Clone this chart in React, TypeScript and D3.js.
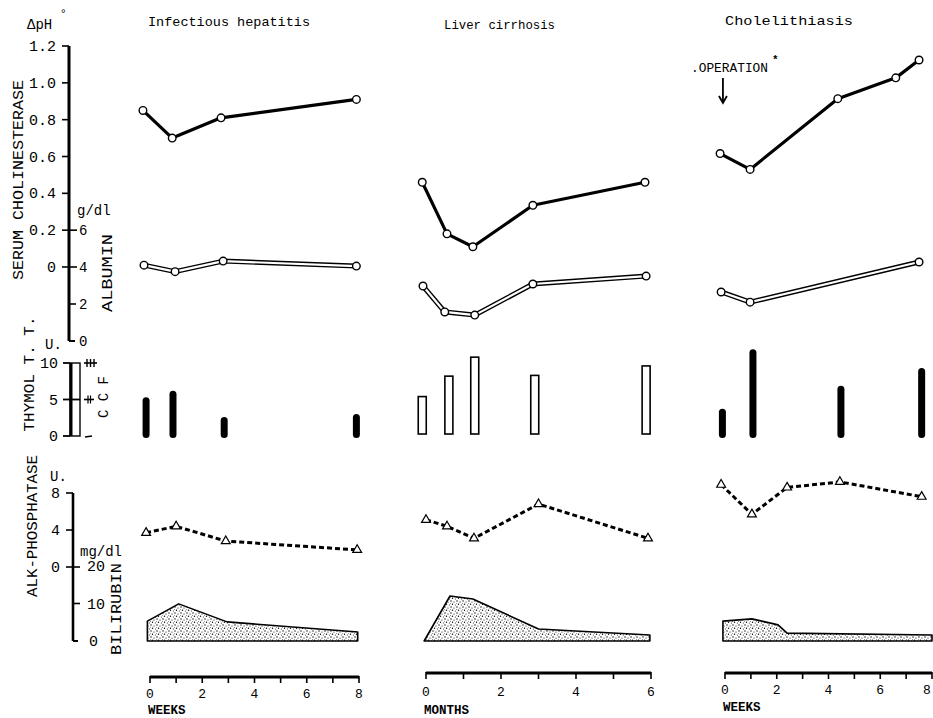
import React from 'react';
import * as d3 from 'd3';

// ---------------- DATA ----------------
const panelTitles = ['Infectious hepatitis', 'Liver cirrhosis', 'Cholelithiasis'];
const panelUnits = ['WEEKS', 'MONTHS', 'WEEKS'];
const panelMax = [8, 6, 8];
const panelTickLabels = [[0, 2, 4, 6, 8], [0, 2, 4, 6], [0, 2, 4, 6, 8]];

const cheTicks = [1.2, 1.0, 0.8, 0.6, 0.4, 0.2, 0];
const cheTickLabels = ['1.2', '1.0', '0.8', '0.6', '0.4', '0.2', '0'];
const albTicks = [6, 4, 2, 0];
const thyTicks = [10, 5, 0];
const alkTicks = [8, 4, 0];
const bilTicks = [20, 10, 0];

// Serum cholinesterase (ΔpH)
const cheT1 = [-0.27, 0.85, 2.72, 7.9];
const che1 = [0.85, 0.70, 0.81, 0.91];
const cheT2 = [-0.1, 0.56, 1.25, 2.85, 5.84];
const che2 = [0.46, 0.18, 0.11, 0.335, 0.46];
const cheT3 = [-0.19, 0.97, 4.36, 6.6, 7.5];
const che3 = [0.616, 0.53, 0.914, 1.027, 1.124];

// Albumin (g/dl)
const albT1 = [-0.23, 0.96, 2.8, 7.9];
const alb1 = [4.1, 3.75, 4.32, 4.05];
const albT2 = [-0.08, 0.5, 1.3, 2.85, 5.87];
const alb2 = [2.97, 1.57, 1.4, 3.08, 3.51];
const albT3 = [-0.15, 0.97, 7.5];
const alb3 = [2.65, 2.1, 4.27];

// Thymol turbidity test (U.)
const thyT1 = [-0.15, 0.88, 2.84, 7.9];
const thy1 = [5.3, 6.2, 2.6, 3.0];
const thyT2 = [-0.1, 0.61, 1.3, 2.9, 5.87];
const thy2 = [5.4, 8.2, 10.8, 8.3, 9.6];
const thyT3 = [-0.1, 1.08, 4.48, 7.6];
const thy3 = [3.75, 11.9, 6.9, 9.3];
const thyFilled = [true, false, true];

// Alkaline phosphatase (U.)
const alkT1 = [-0.15, 1.0, 2.9, 7.93];
const alk1 = [3.7, 4.4, 2.8, 1.85];
const alkT2 = [0, 0.56, 1.28, 3.0, 5.92];
const alk2 = [5.1, 4.4, 3.1, 6.8, 3.1];
const alkT3 = [-0.15, 1.04, 2.4, 4.44, 7.6];
const alk3 = [8.9, 5.7, 8.6, 9.2, 7.6];

// Bilirubin (mg/dl)
const bilT1 = [-0.1, 1.1, 2.95, 7.95];
const bil1 = [5.3, 9.9, 5.1, 2.4];
const bilT2 = [-0.05, 0.64, 1.25, 3.0, 5.97];
const bil2 = [0, 12, 11.2, 3.2, 1.6];
const bilT3 = [-0.08, 1.04, 2.05, 2.4, 8.0];
const bil3 = [5.3, 5.9, 4.3, 2.1, 1.6];

const operationWeek = -0.08;

// ---------------- LAYOUT ----------------
const W = 933;
const H = 718;
const FONT = '"Liberation Mono", "DejaVu Sans Mono", monospace';

const yChe = d3.scaleLinear().domain([0, 1.2]).range([267, 46]);
const yAlb = d3.scaleLinear().domain([0, 6]).range([341, 230]);
const yThy = d3.scaleLinear().domain([0, 10]).range([436, 363]);
const yAlk = d3.scaleLinear().domain([0, 8]).range([567, 493]);
const yBil = d3.scaleLinear().domain([0, 20]).range([641, 566]);

const xRanges = [[150, 359], [426, 651], [725, 932]];
const axisYs = [677, 673, 673];
const tickLabelYs = [698, 696, 694];
const unitYs = [714, 714, 711];
const titleLayout = [
  { x: 148, y: 26, len: 162 },
  { x: 444, y: 29, len: 111 },
  { x: 725, y: 25, len: 128 },
];

const panels = [
  { che: [cheT1, che1], alb: [albT1, alb1], thy: [thyT1, thy1], alk: [alkT1, alk1], bil: [bilT1, bil1] },
  { che: [cheT2, che2], alb: [albT2, alb2], thy: [thyT2, thy2], alk: [alkT2, alk2], bil: [bilT2, bil2] },
  { che: [cheT3, che3], alb: [albT3, alb3], thy: [thyT3, thy3], alk: [alkT3, alk3], bil: [bilT3, bil3] },
];

const line = d3.line<[number, number]>();
const tri = d3.symbol().type(d3.symbolTriangle).size(34);

function pts(xs: number[], ys: number[], sx: (v: number) => number, sy: (v: number) => number): [number, number][] {
  return xs.map((t, i) => [sx(t), sy(ys[i])] as [number, number]);
}

function Panel({ i }: { i: number }) {
  const p = panels[i];
  const max = panelMax[i];
  const x = d3.scaleLinear().domain([0, max]).range(xRanges[i]);
  const ay = axisYs[i];
  const chePts = pts(p.che[0], p.che[1], x, yChe);
  const albPts = pts(p.alb[0], p.alb[1], x, yAlb);
  const alkPts = pts(p.alk[0], p.alk[1], x, yAlk);
  const bilPts = pts(p.bil[0], p.bil[1], x, yBil);
  const base = yBil(0);
  const bilPoly: [number, number][] = [[bilPts[0][0], base], ...bilPts, [bilPts[bilPts.length - 1][0], base]];
  const tl = titleLayout[i];
  const filled = thyFilled[i];
  const bw = filled ? 7 : 8;
  return (
    <g>
      <text x={tl.x} y={tl.y} fontSize={13.5} textLength={tl.len} lengthAdjust="spacingAndGlyphs">{panelTitles[i]}</text>

      {/* bilirubin area */}
      <path d={line(bilPoly) + 'Z'} fill="url(#stipple)" stroke="#000" strokeWidth={1.6} strokeLinejoin="round" />

      {/* albumin double line */}
      <path d={line(albPts)!} fill="none" stroke="#000" strokeWidth={5} strokeLinejoin="round" />
      <path d={line(albPts)!} fill="none" stroke="#fff" strokeWidth={2.2} strokeLinejoin="round" />
      {albPts.map((q, k) => <circle key={'a' + k} cx={q[0]} cy={q[1]} r={3.8} fill="#fff" stroke="#000" strokeWidth={1.4} />)}

      {/* cholinesterase */}
      <path d={line(chePts)!} fill="none" stroke="#000" strokeWidth={3.2} strokeLinejoin="round" />
      {chePts.map((q, k) => <circle key={'c' + k} cx={q[0]} cy={q[1]} r={3.8} fill="#fff" stroke="#000" strokeWidth={1.4} />)}

      {/* thymol bars */}
      {p.thy[0].map((t, k) => {
        const cx = x(t);
        const top = yThy(p.thy[1][k]);
        const bot = yThy(0) + (filled ? 2 : -2);
        return filled ? (
          <rect key={'t' + k} x={cx - bw / 2} y={top} width={bw} height={bot - top} rx={bw / 2} fill="#000" />
        ) : (
          <rect key={'t' + k} x={cx - bw / 2} y={top} width={bw} height={bot - top} fill="#fff" stroke="#000" strokeWidth={1.6} />
        );
      })}

      {/* alkaline phosphatase */}
      <path d={line(alkPts)!} fill="none" stroke="#000" strokeWidth={3} strokeDasharray="5 3" />
      {alkPts.map((q, k) => (
        <path key={'k' + k} d={tri()!} transform={`translate(${q[0]},${q[1]})`} fill="#fff" stroke="#000" strokeWidth={1.2} />
      ))}

      {/* x axis */}
      <line x1={x(0)} x2={x(max)} y1={ay} y2={ay} stroke="#000" strokeWidth={3} />
      {d3.range(0, max + 1).map((v) => (
        <line key={'x' + v} x1={x(v)} x2={x(v)} y1={ay - 1} y2={ay + 6} stroke="#000" strokeWidth={1.6} />
      ))}
      {panelTickLabels[i].map((v) => (
        <text key={'l' + v} x={Math.min(x(v), W - 6)} y={tickLabelYs[i]} fontSize={13} textAnchor="middle">{v}</text>
      ))}
      <text x={x(0) - 2} y={unitYs[i]} fontSize={12.5} fontWeight="bold">{panelUnits[i]}</text>
    </g>
  );
}

export default function App() {
  const leftChe = 69;
  const leftAlk = 73;
  const op = d3.scaleLinear().domain([0, 8]).range(xRanges[2])(operationWeek);
  return (
    <svg width={W} height={H} viewBox={`0 0 ${W} ${H}`} style={{ position: 'absolute', left: 0, top: 0, background: '#fff' }} fontFamily={FONT} fill="#000">
      <defs>
        <pattern id="stipple" width="6" height="6" patternUnits="userSpaceOnUse">
          <rect width="6" height="6" fill="#fff" />
          <circle cx="1" cy="1" r="0.7" fill="#000" />
          <circle cx="4" cy="2" r="0.6" fill="#000" />
          <circle cx="2.5" cy="4.2" r="0.7" fill="#000" />
          <circle cx="5.3" cy="5" r="0.5" fill="#000" />
          <circle cx="0.5" cy="3.4" r="0.45" fill="#000" />
        </pattern>
      </defs>
      <rect width={W} height={H} fill="#fff" />

      {/* ---- Cholinesterase / albumin axis ---- */}
      <text x={27} y={29} fontSize={14}>ΔpH</text>
      <text x={60} y={17} fontSize={11}>°</text>
      <line x1={leftChe} x2={leftChe} y1={yChe(1.2)} y2={yAlb(0)} stroke="#000" strokeWidth={3} />
      <line x1={leftChe} x2={leftChe + 6} y1={yAlb(0)} y2={yAlb(0)} stroke="#000" strokeWidth={2} />
      {cheTicks.map((v, k) => (
        <g key={'ct' + k}>
          <line x1={62} x2={v <= 0.2 ? 77 : leftChe} y1={yChe(v)} y2={yChe(v)} stroke="#000" strokeWidth={1.6} />
          <text x={56} y={yChe(v) + 5} fontSize={15} textAnchor="end">{cheTickLabels[k]}</text>
        </g>
      ))}
      {albTicks.map((v) => (
        <g key={'at' + v}>
          {v === 2 && <line x1={leftChe} x2={76} y1={yAlb(v)} y2={yAlb(v)} stroke="#000" strokeWidth={1.6} />}
          <text x={79} y={yAlb(v) + 5} fontSize={14}>{v}</text>
        </g>
      ))}
      <text x={77} y={215} fontSize={14}>g/dl</text>
      <text transform="translate(19,180) rotate(-90)" fontSize={15} textAnchor="middle" dominantBaseline="central" textLength={200} lengthAdjust="spacingAndGlyphs">SERUM CHOLINESTERASE</text>
      <text transform="translate(108,273) rotate(-90)" fontSize={14} textAnchor="middle" dominantBaseline="central" textLength={78} lengthAdjust="spacingAndGlyphs">ALBUMIN</text>

      {/* ---- Thymol axis ---- */}
      <text x={45} y={349} fontSize={14}>U.</text>
      <rect x={70} y={yThy(10)} width={10} height={yThy(0) - yThy(10)} fill="none" stroke="#000" strokeWidth={1.4} />
      <line x1={71} x2={71} y1={yThy(10)} y2={yThy(0)} stroke="#000" strokeWidth={3} />
      {thyTicks.map((v) => (
        <g key={'tt' + v}>
          <line x1={63} x2={v === 5 ? 80 : 70} y1={yThy(v)} y2={yThy(v)} stroke="#000" strokeWidth={1.8} />
          <text x={58} y={yThy(v) + 5} fontSize={15} textAnchor="end">{v}</text>
        </g>
      ))}
      {/* CCF grade marks */}
      <line x1={84} x2={97} y1={yThy(10)} y2={yThy(10)} stroke="#000" strokeWidth={1.6} />
      {[87, 90.5, 94].map((xx) => <line key={'g3' + xx} x1={xx} x2={xx} y1={yThy(10) - 4} y2={yThy(10) + 4} stroke="#000" strokeWidth={1.4} />)}
      <line x1={84} x2={94} y1={yThy(5)} y2={yThy(5)} stroke="#000" strokeWidth={1.6} />
      {[88, 90.5].map((xx) => <line key={'g2' + xx} x1={xx} x2={xx} y1={yThy(5) - 4} y2={yThy(5) + 4} stroke="#000" strokeWidth={1.2} />)}
      <line x1={85} x2={92} y1={yThy(0) + 1} y2={yThy(0)} stroke="#000" strokeWidth={1.6} />
      <text transform={`translate(30,${374}) rotate(-90)`} fontSize={14.5} textAnchor="middle" dominantBaseline="central" textLength={115} lengthAdjust="spacingAndGlyphs">THYMOL T. T.</text>
      <text transform="translate(104,397) rotate(-90)" fontSize={14} textAnchor="middle" dominantBaseline="central">C C F</text>

      {/* ---- Alk-phosphatase / bilirubin axis ---- */}
      <text x={50} y={481} fontSize={14}>U.</text>
      <line x1={leftAlk} x2={leftAlk} y1={yAlk(8)} y2={yBil(0)} stroke="#000" strokeWidth={2.6} />
      <line x1={leftAlk} x2={leftAlk + 5} y1={yBil(0)} y2={yBil(0)} stroke="#000" strokeWidth={2} />
      {alkTicks.map((v) => (
        <g key={'kt' + v}>
          <line x1={66} x2={v === 0 ? 80 : leftAlk} y1={yAlk(v)} y2={yAlk(v)} stroke="#000" strokeWidth={1.6} />
          <text x={60} y={yAlk(v) + 5} fontSize={15} textAnchor="end">{v}</text>
        </g>
      ))}
      {bilTicks.map((v) => (
        <g key={'bt' + v}>
          {v === 10 && <line x1={leftAlk} x2={80} y1={yBil(v)} y2={yBil(v)} stroke="#000" strokeWidth={1.6} />}
          <text x={v === 0 ? 89 : 87} y={yBil(v) + 5} fontSize={15}>{v}</text>
        </g>
      ))}
      <text x={80} y={556} fontSize={14}>mg/dl</text>
      <text transform="translate(33,526) rotate(-90)" fontSize={15} textAnchor="middle" dominantBaseline="central" textLength={142} lengthAdjust="spacingAndGlyphs">ALK-PHOSPHATASE</text>
      <text transform="translate(117,609) rotate(-90)" fontSize={15} textAnchor="middle" dominantBaseline="central" textLength={92} lengthAdjust="spacingAndGlyphs">BILIRUBIN</text>

      {/* ---- panels ---- */}
      {[0, 1, 2].map((i) => <Panel key={i} i={i} />)}

      {/* operation annotation */}
      <text x={691} y={72} fontSize={13.5} textLength={77} lengthAdjust="spacingAndGlyphs">.OPERATION</text>
      <text x={772} y={63} fontSize={11} fontWeight="bold">*</text>
      <line x1={op} x2={op} y1={78} y2={102} stroke="#000" strokeWidth={1.8} />
      <path d={`M${op - 4},${96} L${op},${103} L${op + 4},${96}`} fill="none" stroke="#000" strokeWidth={1.8} />
    </svg>
  );
}
